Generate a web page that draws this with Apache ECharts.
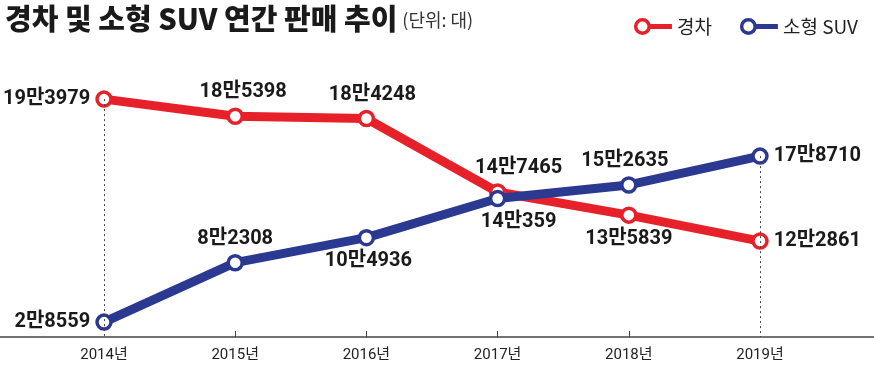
<!DOCTYPE html>
<html>
<head>
<meta charset="utf-8">
<script src="https://cdn.jsdelivr.net/npm/echarts@6/dist/echarts.min.js"></script>
<style>
html,body{margin:0;padding:0;background:#fff;}
#chart{width:874px;height:370px;}
</style>
</head>
<body>
<div id="chart"></div>
<script>
// ---- data ----
const years = ['2014년', '2015년', '2016년', '2017년', '2018년', '2019년'];
const lightCar = [193979, 185398, 184248, 147465, 135839, 122861];   // 경차
const smallSuv = [28559, 82308, 104936, 140359, 152635, 178710];      // 소형 SUV
const seriesNames = ['경차', '소형 SUV'];
const titleText = '경차 및 소형 SUV 연간 판매 추이';
const unitText = '(단위: 대)';

// ---- style config ----
const RED = '#e62129';
const BLUE = '#2b3990';
const redLabelPos = ['left', 'top', 'top', 'top', 'bottom', 'right'];
const blueLabelPos = ['left', 'top', 'bottom', 'bottom', 'top', 'right'];
const redLabelShift = [0, 8, 6, 21, 0, 0];
const blueLabelShift = [0, 0, 2, 21, -4, 0];
const NUM_FONT = "Roboto, 'Noto Sans CJK KR', sans-serif";
const KR_FONT = "'Noto Sans CJK KR', 'Noto Sans', sans-serif";
const ICON = 'path://M0,8.5 A8.5,8.5 0 1,1 17,8.5 A8.5,8.5 0 1,1 0,8.5 Z M3.5,8.5 A5,5 0 1,0 13.5,8.5 A5,5 0 1,0 3.5,8.5 Z M16,6 L38,6 L38,11 L16,11 Z';

function fmt(v) {
  return Math.floor(v / 10000) + '만' + (v % 10000);
}

function buildData(vals, pos, shift) {
  return vals.map((v, i) => ({
    value: v,
    label: { position: pos[i], offset: [shift[i], 0] }
  }));
}

const labelBase = {
  show: true,
  formatter: p => fmt(p.value),
  fontFamily: NUM_FONT,
  fontWeight: 'bold',
  fontSize: 20,
  color: '#1a1a1a',
  distance: 5
};

const chart = echarts.init(document.getElementById('chart'), null, { renderer: 'canvas' });

const option = {
  animation: false,
  backgroundColor: '#fff',
  title: {
    left: 0,
    top: -1,
    text: '{a|' + titleText + '} {b|' + unitText + '}',
    textStyle: {
      rich: {
        a: { fontFamily: KR_FONT, fontWeight: 900, fontSize: 29, color: '#1a1a1a' },
        b: { fontFamily: KR_FONT, fontWeight: 'normal', fontSize: 18, color: '#333', padding: [4, 0, 0, 0] }
      }
    }
  },
  legend: {
    right: 11,
    top: 12,
    itemWidth: 38,
    itemHeight: 17,
    itemGap: 28,
    textStyle: { fontFamily: KR_FONT, fontSize: 19, color: '#222' },
    data: [
      { name: seriesNames[0], icon: ICON, itemStyle: { color: RED, borderWidth: 0 } },
      { name: seriesNames[1], icon: ICON, itemStyle: { color: BLUE, borderWidth: 0 } }
    ]
  },
  grid: { left: 104, right: 114, top: 28, bottom: 33 },
  xAxis: {
    type: 'category',
    data: years,
    boundaryGap: false,
    axisLine: { show: false },
    axisTick: {
      show: true,
      inside: true,
      length: 6,
      interval: (i) => i > 0 && i < years.length - 1,
      lineStyle: { color: '#444', width: 1 }
    },
    axisLabel: {
      margin: 11,
      fontFamily: NUM_FONT,
      fontSize: 15,
      color: '#222'
    },
    splitLine: { show: false }
  },
  yAxis: [
    { type: 'value', min: 74800, max: 229600, show: false },
    { type: 'value', min: 15100, max: 294600, show: false }
  ],
  graphic: [
    {
      type: 'line',
      shape: { x1: 0, y1: 337, x2: 874, y2: 337 },
      style: { stroke: '#444', lineWidth: 1.5 },
      z: 0
    }
  ],
  series: [
    {
      name: 'guide1',
      type: 'line',
      yAxisIndex: 0,
      z: 1,
      data: lightCar,
      symbol: 'none',
      lineStyle: { opacity: 0 },
      silent: true,
      markLine: {
        silent: true,
        symbol: ['none', 'none'],
        label: { show: false },
        lineStyle: { color: '#444', type: [2, 3], width: 1 },
        data: [[{ coord: [0, lightCar[0]] }, { coord: [0, 74800] }]]
      }
    },
    {
      name: 'guide2',
      type: 'line',
      yAxisIndex: 1,
      z: 1,
      data: smallSuv,
      symbol: 'none',
      lineStyle: { opacity: 0 },
      silent: true,
      markLine: {
        silent: true,
        symbol: ['none', 'none'],
        label: { show: false },
        lineStyle: { color: '#444', type: [2, 3], width: 1 },
        data: [[{ coord: [5, smallSuv[5]] }, { coord: [5, 15100] }]]
      }
    },
    {
      name: seriesNames[0],
      type: 'line',
      yAxisIndex: 0,
      z: 3,
      data: buildData(lightCar, redLabelPos, redLabelShift),
      symbol: 'circle',
      symbolSize: 14,
      showAllSymbol: true,
      lineStyle: { color: RED, width: 9 },
      itemStyle: { color: '#fff', borderColor: RED, borderWidth: 3.5 },
      label: labelBase,
      clip: false
    },
    {
      name: seriesNames[1],
      type: 'line',
      yAxisIndex: 1,
      z: 4,
      data: buildData(smallSuv, blueLabelPos, blueLabelShift),
      symbol: 'circle',
      symbolSize: 14,
      showAllSymbol: true,
      lineStyle: { color: BLUE, width: 9 },
      itemStyle: { color: '#fff', borderColor: BLUE, borderWidth: 3.5 },
      label: labelBase,
      clip: false
    }
  ]
};

chart.setOption(option);
</script>
</body>
</html>
